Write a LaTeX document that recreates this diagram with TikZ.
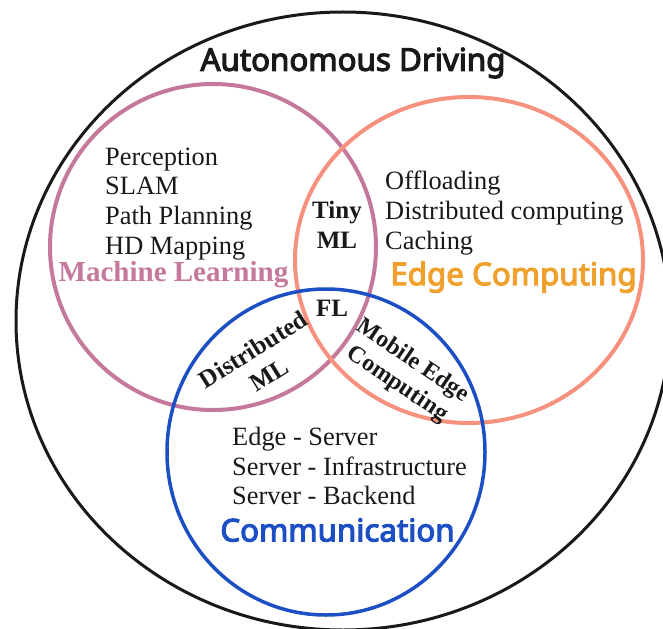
\documentclass[tikz,border=0pt]{standalone}
\usepackage{fontspec}
\setmainfont{Liberation Serif}
\newfontfamily\headfont{Noto Sans}[FakeBold=3.6]
\def\headsize{31.3bp}
\definecolor{blackc}{RGB}{25,25,25}
\definecolor{pinkc}{RGB}{196,120,155}
\definecolor{salmonc}{RGB}{245,145,125}
\definecolor{bluec}{RGB}{28,78,196}
\definecolor{orangec}{RGB}{240,160,45}
\begin{document}
\begin{tikzpicture}[x=1bp,y=-1bp,
  listtext/.style={font=\fontsize{26.4bp}{29.8bp}\selectfont, align=left, anchor=west, inner sep=0pt, text=blackc},
  headtext/.style={font=\headfont\bfseries\fontsize{\headsize}{30bp}\selectfont, inner sep=0pt},
  serifhead/.style={font=\bfseries\fontsize{29bp}{30bp}\selectfont, inner sep=0pt},
  overlaptext/.style={font=\bfseries\fontsize{25bp}{30bp}\selectfont, align=center, inner sep=0pt, text=blackc}]
\useasboundingbox (0,0) rectangle (663,629);
\begin{scope}
\clip (0,0) rectangle (663,629);
\draw[blackc, line width=3bp] (343,321) ellipse [x radius=327, y radius=309];
\end{scope}
\draw[pinkc, line width=4bp] (213,247) circle [radius=163];
\draw[salmonc, line width=4bp] (469,260) ellipse [x radius=174, y radius=163];
\draw[bluec, line width=3.5bp] (326,452) ellipse [x radius=159, y radius=163];
\node[headtext, text=blackc] (ad) at (353,63) {Autonomous Driving};
\node[listtext] (mllist) at (105,204) {Perception\\SLAM\\Path Planning\\HD Mapping};
\node[serifhead, text=pinkc] (ml) at (173.5,275) {Machine Learning};
\node[overlaptext] (tiny) at (337,225) {Tiny\\ML};
\node[listtext] (eclist) at (385,213) {Offloading\\Distributed computing\\Caching};
\node[headtext, text=orangec] (ec) at (513.5,277) {Edge Computing};
\node[overlaptext] (fl) at (332,308) {FL};
\node[overlaptext, rotate=32] (dml) at (261,362) {Distributed\\ML};
\node[overlaptext, rotate=-34, font=\bfseries\fontsize{24bp}{28bp}\selectfont] (mec) at (405,373) {Mobile Edge\\Computing};
\node[listtext] (comlist) at (232,466) {Edge - Server\\Server - Infrastructure\\Server - Backend};
\node[headtext, text=bluec] (com) at (337.5,530) {Communication};
\end{tikzpicture}
\end{document}
